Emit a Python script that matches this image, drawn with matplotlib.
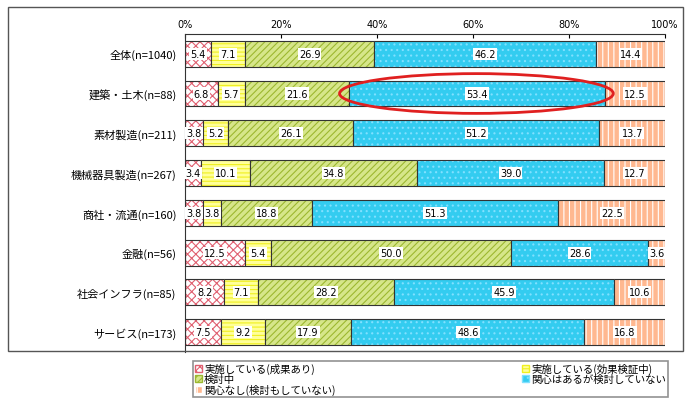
import matplotlib
matplotlib.use("Agg")
import matplotlib.pyplot as plt
from matplotlib.patches import Ellipse, Rectangle, Patch
import numpy as np

plt.rcParams['font.family'] = 'Noto Sans CJK JP'
plt.rcParams['hatch.linewidth'] = 0.8

categories = ["全体(n=1040)", "建築・土木(n=88)", "素材製造(n=211)", "機械器具製造(n=267)",
              "商社・流通(n=160)", "金融(n=56)", "社会インフラ(n=85)", "サービス(n=173)"]
series_names = ["実施している(成果あり)", "実施している(効果検証中)", "検討中",
                "関心はあるが検討していない", "関心なし(検討もしていない)"]
s1 = [5.4, 6.8, 3.8, 3.4, 3.8, 12.5, 8.2, 7.5]
s2 = [7.1, 5.7, 5.2, 10.1, 3.8, 5.4, 7.1, 9.2]
s3 = [26.9, 21.6, 26.1, 34.8, 18.8, 50.0, 28.2, 17.9]
s4 = [46.2, 53.4, 51.2, 39.0, 51.3, 28.6, 45.9, 48.6]
s5 = [14.4, 12.5, 13.7, 12.7, 22.5, 3.6, 10.6, 16.8]
xticks = [0, 20, 40, 60, 80, 100]
xtick_labels = ["0%", "20%", "40%", "60%", "80%", "100%"]

faces = ["#FFFFFF", "#FFFF99", "#D6E68A", "#33CCF0", "#FFB890"]
hatch_colors = ["#E06070", "#F0F020", "#9CB830", "#80E0FF", "#FFFFFF"]
hatches = ["xxxx", "----", "/////", "...", "|||"]

fig = plt.figure(figsize=(6.9, 4.1), dpi=100)
ax = fig.add_axes([0.268, 0.139, 0.696, 0.776])
y = np.arange(len(categories))
left = np.zeros(len(categories))
for vals, fc, hc, h, name in zip([s1, s2, s3, s4, s5], faces, hatch_colors, hatches, series_names):
    vals = np.array(vals)
    ax.barh(y, vals, left=left, height=0.65, facecolor=fc, edgecolor=hc, hatch=h, linewidth=0)
    ax.barh(y, vals, left=left, height=0.65, facecolor='none', edgecolor='#333333', linewidth=0.8)
    for yi, l, v in zip(y, left, vals):
        ax.text(l + v / 2, yi, f"{v:.1f}", ha='center', va='center', fontsize=7,
                family='DejaVu Sans',
                bbox=dict(facecolor='white', edgecolor='none', pad=0.8))
    left = left + vals

ax.add_patch(Ellipse((60.7, 1), 57, 1.0, fill=False, edgecolor='#E02020', linewidth=2, zorder=5))

ax.set_xlim(0, 100)
ax.set_ylim(len(categories) - 0.5, -0.5)
ax.set_yticks(y)
ax.set_yticklabels(categories, fontsize=8)
ax.set_xticks(xticks)
ax.set_xticklabels(xtick_labels, fontsize=7, family='DejaVu Sans')
ax.xaxis.tick_top()
ax.tick_params(axis='y', length=0, pad=6)
ax.tick_params(axis='x', length=3, direction='in')
for s in ['right', 'bottom']:
    ax.spines[s].set_visible(False)
ax.spines['top'].set_color('#333333')
ax.spines['left'].set_color('#333333')

handles = [Patch(facecolor=fc, edgecolor=hc, hatch=h) for fc, hc, h in zip(faces, hatch_colors, hatches)]
order = [0, 2, 4, 1, 3]
leg = fig.legend([handles[i] for i in order], [series_names[i] for i in order],
                 loc='lower left', bbox_to_anchor=(0.28, 0.03, 0.688, 0.107),
                 mode='expand', ncol=2, fontsize=7.5, frameon=True, fancybox=False,
                 borderpad=0.15, labelspacing=0.0, handlelength=0.7, handleheight=0.7,
                 handletextpad=0.2, borderaxespad=0)
leg.get_frame().set_edgecolor('#777777')
leg.get_frame().set_linewidth(1.2)

fig.patches.append(Rectangle((0.012, 0.141), 0.978, 0.84, transform=fig.transFigure,
                             fill=False, edgecolor='#555555', linewidth=1))
fig.savefig("out.png", dpi=100)
